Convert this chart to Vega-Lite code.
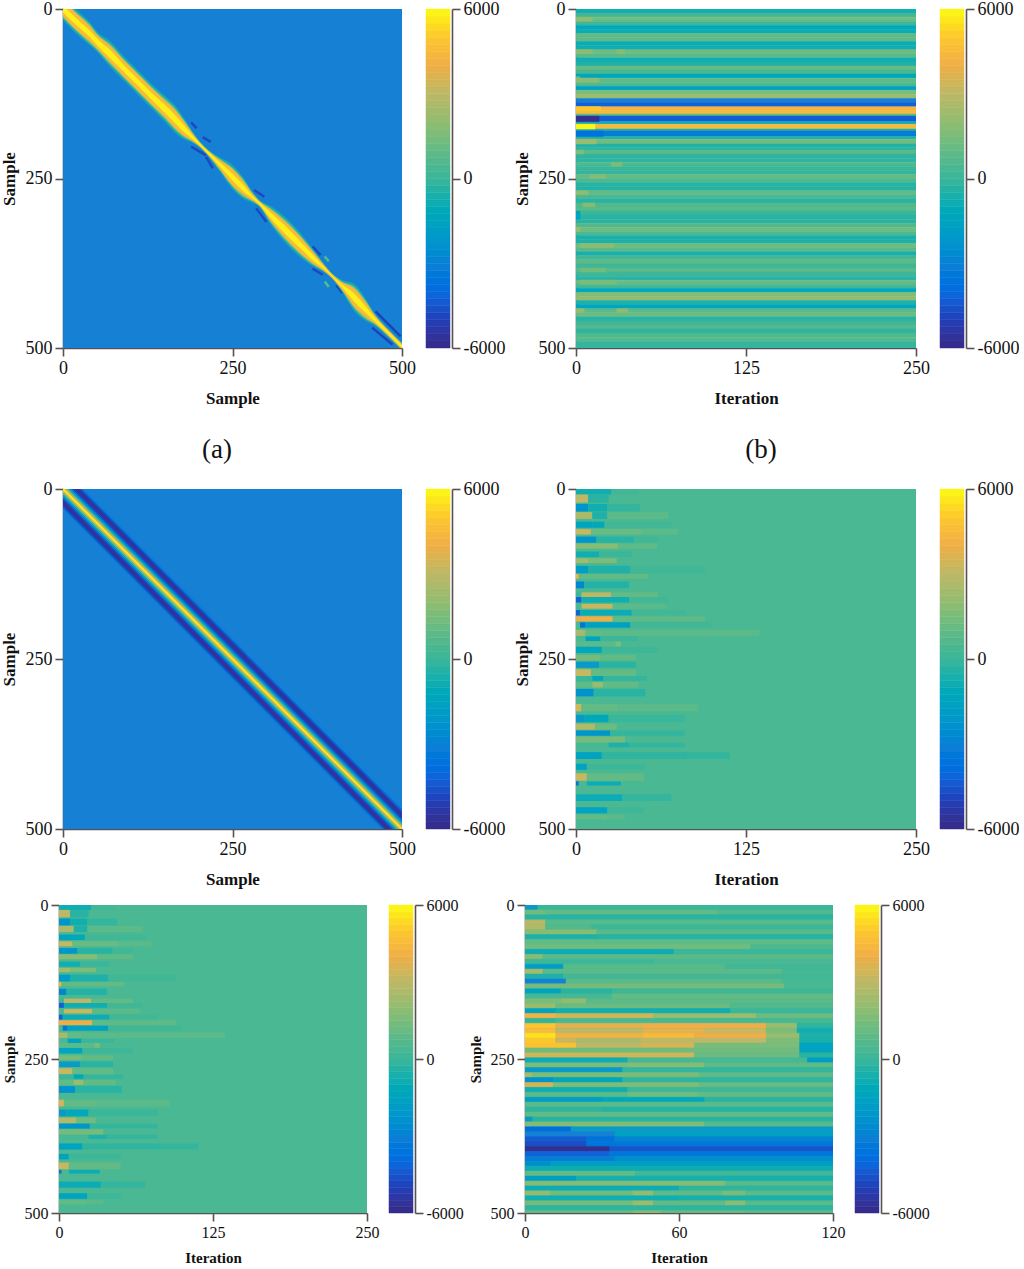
{"$schema":"https://vega.github.io/schema/vega-lite/v6.json","background":"white","padding":{"left":0,"top":0,"right":0,"bottom":0},"spacing":10,"align":"none",
"config":{"view":{"stroke":null},"legend":{"disable":true},"font":"Liberation Serif","range":{"ramp":["#352a87","#2040b8","#0a6ae0","#1580d4","#0b9ac8","#0cabb5","#3ab69a","#62bb85","#90bc72","#bdb868","#f0ae48","#fcc72c","#f9fb15"],"heatmap":["#352a87","#2040b8","#0a6ae0","#1580d4","#0b9ac8","#0cabb5","#3ab69a","#62bb85","#90bc72","#bdb868","#f0ae48","#fcc72c","#f9fb15"]},
"rect":{"strokeWidth":0.5},
"axis":{"grid":false,"domainColor":"#5a5050","tickColor":"#5a5050","domainWidth":1.6,"tickWidth":1.6,"tickSize":8,"labelColor":"#111","labelFontSize":18,"titleFontSize":17,"titleFontWeight":"bold","titleColor":"#111","labelPadding":3,"labelFlush":false,"labelOverlap":false,"titlePadding":7},"axisX":{"titlePadding":13}},
"datasets":{
"bar":[{"y":-6000,"y2":-5750,"v":-5875},{"y":-5750,"y2":-5500,"v":-5625},{"y":-5500,"y2":-5250,"v":-5375},{"y":-5250,"y2":-5000,"v":-5125},{"y":-5000,"y2":-4750,"v":-4875},{"y":-4750,"y2":-4500,"v":-4625},{"y":-4500,"y2":-4250,"v":-4375},{"y":-4250,"y2":-4000,"v":-4125},{"y":-4000,"y2":-3750,"v":-3875},{"y":-3750,"y2":-3500,"v":-3625},{"y":-3500,"y2":-3250,"v":-3375},{"y":-3250,"y2":-3000,"v":-3125},{"y":-3000,"y2":-2750,"v":-2875},{"y":-2750,"y2":-2500,"v":-2625},{"y":-2500,"y2":-2250,"v":-2375},{"y":-2250,"y2":-2000,"v":-2125},{"y":-2000,"y2":-1750,"v":-1875},{"y":-1750,"y2":-1500,"v":-1625},{"y":-1500,"y2":-1250,"v":-1375},{"y":-1250,"y2":-1000,"v":-1125},{"y":-1000,"y2":-750,"v":-875},{"y":-750,"y2":-500,"v":-625},{"y":-500,"y2":-250,"v":-375},{"y":-250,"y2":0,"v":-125},{"y":0,"y2":250,"v":125},{"y":250,"y2":500,"v":375},{"y":500,"y2":750,"v":625},{"y":750,"y2":1000,"v":875},{"y":1000,"y2":1250,"v":1125},{"y":1250,"y2":1500,"v":1375},{"y":1500,"y2":1750,"v":1625},{"y":1750,"y2":2000,"v":1875},{"y":2000,"y2":2250,"v":2125},{"y":2250,"y2":2500,"v":2375},{"y":2500,"y2":2750,"v":2625},{"y":2750,"y2":3000,"v":2875},{"y":3000,"y2":3250,"v":3125},{"y":3250,"y2":3500,"v":3375},{"y":3500,"y2":3750,"v":3625},{"y":3750,"y2":4000,"v":3875},{"y":4000,"y2":4250,"v":4125},{"y":4250,"y2":4500,"v":4375},{"y":4500,"y2":4750,"v":4625},{"y":4750,"y2":5000,"v":4875},{"y":5000,"y2":5250,"v":5125},{"y":5250,"y2":5500,"v":5375},{"y":5500,"y2":5750,"v":5625},{"y":5750,"y2":6000,"v":5875}],
"bgblue":[{"x":0,"x2":500,"y":0,"y2":500,"v":-3000}],
"area":[
{"x":0,"y":-16,"y2":16,"v":-800},{"x":20,"y":1,"y2":37,"v":-800},{"x":40,"y":20,"y2":54,"v":-800},{"x":50,"y":33,"y2":63,"v":-800},{"x":70,"y":48,"y2":86,"v":-800},{"x":90,"y":70,"y2":106,"v":-800},{"x":110,"y":90,"y2":126,"v":-800},{"x":130,"y":110,"y2":146,"v":-800},{"x":150,"y":128,"y2":166,"v":-800},{"x":165,"y":142,"y2":182,"v":-800},{"x":180,"y":163,"y2":193,"v":-800},{"x":190,"y":179,"y2":197,"v":-800},{"x":200,"y":193,"y2":203,"v":-800},{"x":215,"y":208,"y2":218,"v":-800},{"x":230,"y":218,"y2":238,"v":-800},{"x":250,"y":230,"y2":266,"v":-800},{"x":265,"y":247,"y2":279,"v":-800},{"x":280,"y":270,"y2":286,"v":-800},{"x":290,"y":282,"y2":292,"v":-800},{"x":305,"y":290,"y2":316,"v":-800},{"x":330,"y":309,"y2":347,"v":-800},{"x":350,"y":330,"y2":366,"v":-800},{"x":370,"y":356,"y2":380,"v":-800},{"x":385,"y":376,"y2":388,"v":-800},{"x":395,"y":388,"y2":396,"v":-800},{"x":410,"y":399,"y2":415,"v":-800},{"x":430,"y":406,"y2":446,"v":-800},{"x":445,"y":425,"y2":459,"v":-800},{"x":460,"y":449,"y2":467,"v":-800},{"x":480,"y":472,"y2":484,"v":-800},{"x":500,"y":492,"y2":504,"v":-800},
{"x":0,"y":-13,"y2":13,"v":2000},{"x":20,"y":5,"y2":33,"v":2000},{"x":40,"y":23,"y2":51,"v":2000},{"x":50,"y":36,"y2":60,"v":2000},{"x":70,"y":52,"y2":82,"v":2000},{"x":90,"y":74,"y2":102,"v":2000},{"x":110,"y":94,"y2":122,"v":2000},{"x":130,"y":114,"y2":142,"v":2000},{"x":150,"y":132,"y2":162,"v":2000},{"x":165,"y":146,"y2":178,"v":2000},{"x":180,"y":166,"y2":190,"v":2000},{"x":190,"y":181,"y2":195,"v":2000},{"x":200,"y":194,"y2":202,"v":2000},{"x":215,"y":209,"y2":217,"v":2000},{"x":230,"y":220,"y2":236,"v":2000},{"x":250,"y":234,"y2":262,"v":2000},{"x":265,"y":250,"y2":276,"v":2000},{"x":280,"y":272,"y2":284,"v":2000},{"x":290,"y":283,"y2":291,"v":2000},{"x":305,"y":293,"y2":313,"v":2000},{"x":330,"y":313,"y2":343,"v":2000},{"x":350,"y":334,"y2":362,"v":2000},{"x":370,"y":358,"y2":378,"v":2000},{"x":385,"y":377,"y2":387,"v":2000},{"x":395,"y":389,"y2":395,"v":2000},{"x":410,"y":401,"y2":413,"v":2000},{"x":430,"y":410,"y2":442,"v":2000},{"x":445,"y":428,"y2":456,"v":2000},{"x":460,"y":451,"y2":465,"v":2000},{"x":480,"y":473,"y2":483,"v":2000},{"x":500,"y":493,"y2":503,"v":2000},
{"x":0,"y":-10,"y2":10,"v":4500},{"x":20,"y":7,"y2":31,"v":4500},{"x":40,"y":26,"y2":48,"v":4500},{"x":50,"y":38,"y2":58,"v":4500},{"x":70,"y":55,"y2":79,"v":4500},{"x":90,"y":76,"y2":100,"v":4500},{"x":110,"y":96,"y2":120,"v":4500},{"x":130,"y":116,"y2":140,"v":4500},{"x":150,"y":135,"y2":159,"v":4500},{"x":165,"y":149,"y2":175,"v":4500},{"x":180,"y":168,"y2":188,"v":4500},{"x":190,"y":182,"y2":194,"v":4500},{"x":200,"y":195,"y2":201,"v":4500},{"x":215,"y":210,"y2":216,"v":4500},{"x":230,"y":222,"y2":234,"v":4500},{"x":250,"y":236,"y2":260,"v":4500},{"x":265,"y":253,"y2":273,"v":4500},{"x":280,"y":273,"y2":283,"v":4500},{"x":290,"y":284,"y2":290,"v":4500},{"x":305,"y":295,"y2":311,"v":4500},{"x":330,"y":316,"y2":340,"v":4500},{"x":350,"y":336,"y2":360,"v":4500},{"x":370,"y":360,"y2":376,"v":4500},{"x":385,"y":378,"y2":386,"v":4500},{"x":395,"y":389,"y2":395,"v":4500},{"x":410,"y":402,"y2":412,"v":4500},{"x":430,"y":413,"y2":439,"v":4500},{"x":445,"y":431,"y2":453,"v":4500},{"x":460,"y":452,"y2":464,"v":4500},{"x":480,"y":474,"y2":482,"v":4500},{"x":500,"y":494,"y2":502,"v":4500},
{"x":0,"y":-5,"y2":5,"v":5800},{"x":20,"y":14,"y2":24,"v":5800},{"x":40,"y":32,"y2":42,"v":5800},{"x":50,"y":43,"y2":53,"v":5800},{"x":70,"y":61,"y2":73,"v":5800},{"x":90,"y":83,"y2":93,"v":5800},{"x":110,"y":103,"y2":113,"v":5800},{"x":130,"y":123,"y2":133,"v":5800},{"x":150,"y":141,"y2":153,"v":5800},{"x":165,"y":156,"y2":168,"v":5800},{"x":180,"y":173,"y2":183,"v":5800},{"x":190,"y":185,"y2":191,"v":5800},{"x":200,"y":196,"y2":200,"v":5800},{"x":215,"y":211,"y2":215,"v":5800},{"x":230,"y":225,"y2":231,"v":5800},{"x":250,"y":243,"y2":253,"v":5800},{"x":265,"y":258,"y2":268,"v":5800},{"x":280,"y":276,"y2":280,"v":5800},{"x":290,"y":285,"y2":289,"v":5800},{"x":305,"y":299,"y2":307,"v":5800},{"x":330,"y":322,"y2":334,"v":5800},{"x":350,"y":343,"y2":353,"v":5800},{"x":370,"y":364,"y2":372,"v":5800},{"x":385,"y":380,"y2":384,"v":5800},{"x":395,"y":391,"y2":393,"v":5800},{"x":410,"y":405,"y2":409,"v":5800},{"x":430,"y":420,"y2":432,"v":5800},{"x":445,"y":437,"y2":447,"v":5800},{"x":460,"y":455,"y2":461,"v":5800},{"x":480,"y":476,"y2":480,"v":5800},{"x":500,"y":496,"y2":500,"v":5800}],
"streak":[{"s":1,"x":189,"y":167,"v":-4800},{"s":1,"x":197,"y":176,"v":-4800},{"s":2,"x":206,"y":189,"v":-4800},{"s":2,"x":218,"y":196,"v":-4800},{"s":3,"x":189,"y":203,"v":-4800},{"s":3,"x":211,"y":216,"v":-4800},{"s":4,"x":211,"y":218,"v":-4800},{"s":4,"x":221,"y":235,"v":-4800},{"s":5,"x":282,"y":267,"v":-4800},{"s":5,"x":297,"y":277,"v":-4800},{"s":6,"x":285,"y":294,"v":-4800},{"s":6,"x":300,"y":314,"v":-4800},{"s":7,"x":368,"y":350,"v":-4800},{"s":7,"x":380,"y":363,"v":-4800},{"s":8,"x":368,"y":383,"v":-4800},{"s":8,"x":383,"y":392,"v":-4800},{"s":9,"x":403,"y":407,"v":-4800},{"s":9,"x":412,"y":419,"v":-4800},{"s":10,"x":461,"y":446,"v":-5000},{"s":10,"x":498,"y":483,"v":-5000},{"s":11,"x":456,"y":470,"v":-5000},{"s":11,"x":486,"y":495,"v":-5000},{"s":12,"x":386,"y":365,"v":700},{"s":12,"x":392,"y":372,"v":700},{"s":13,"x":386,"y":402,"v":700},{"s":13,"x":392,"y":410,"v":700}],
"clines":[{"d":-30,"x":0,"y":-30,"v":-3000},{"d":-30,"x":500,"y":470,"v":-3000},{"d":30,"x":0,"y":30,"v":-3000},{"d":30,"x":500,"y":530,"v":-3000},{"d":-27,"x":0,"y":-27,"v":-3800},{"d":-27,"x":500,"y":473,"v":-3800},{"d":27,"x":0,"y":27,"v":-3800},{"d":27,"x":500,"y":527,"v":-3800},{"d":-24,"x":0,"y":-24,"v":-5000},{"d":-24,"x":500,"y":476,"v":-5000},{"d":24,"x":0,"y":24,"v":-5000},{"d":24,"x":500,"y":524,"v":-5000},{"d":-21,"x":0,"y":-21,"v":-5700},{"d":-21,"x":500,"y":479,"v":-5700},{"d":21,"x":0,"y":21,"v":-5700},{"d":21,"x":500,"y":521,"v":-5700},{"d":-18,"x":0,"y":-18,"v":-5600},{"d":-18,"x":500,"y":482,"v":-5600},{"d":18,"x":0,"y":18,"v":-5600},{"d":18,"x":500,"y":518,"v":-5600},{"d":-15,"x":0,"y":-15,"v":-5000},{"d":-15,"x":500,"y":485,"v":-5000},{"d":15,"x":0,"y":15,"v":-5000},{"d":15,"x":500,"y":515,"v":-5000},{"d":-12,"x":0,"y":-12,"v":-3500},{"d":-12,"x":500,"y":488,"v":-3500},{"d":12,"x":0,"y":12,"v":-3500},{"d":12,"x":500,"y":512,"v":-3500},{"d":-9,"x":0,"y":-9,"v":-1500},{"d":-9,"x":500,"y":491,"v":-1500},{"d":9,"x":0,"y":9,"v":-1500},{"d":9,"x":500,"y":509,"v":-1500},{"d":-6,"x":0,"y":-6,"v":800},{"d":-6,"x":500,"y":494,"v":800},{"d":6,"x":0,"y":6,"v":800},{"d":6,"x":500,"y":506,"v":800},{"d":-3,"x":0,"y":-3,"v":3500},{"d":-3,"x":500,"y":497,"v":3500},{"d":3,"x":0,"y":3,"v":3500},{"d":3,"x":500,"y":503,"v":3500},{"d":0,"x":0,"y":0,"v":5800},{"d":0,"x":500,"y":500,"v":5800}],
"b":[{"x":0,"x2":250,"y":0,"y2":6,"v":-800},{"x":0,"x2":250,"y":6,"y2":12,"v":200},{"x":0,"x2":250,"y":12,"y2":18,"v":1300},{"x":0,"x2":250,"y":18,"y2":24,"v":200},{"x":0,"x2":250,"y":24,"y2":30,"v":-1200},{"x":0,"x2":250,"y":30,"y2":36,"v":-1000},{"x":0,"x2":250,"y":36,"y2":42,"v":1000},{"x":0,"x2":250,"y":42,"y2":48,"v":900},{"x":0,"x2":250,"y":48,"y2":54,"v":-900},{"x":0,"x2":250,"y":54,"y2":60,"v":-800},{"x":0,"x2":250,"y":60,"y2":66,"v":1300},{"x":0,"x2":250,"y":66,"y2":72,"v":800},{"x":0,"x2":250,"y":72,"y2":78,"v":-800},{"x":0,"x2":250,"y":78,"y2":84,"v":-500},{"x":0,"x2":250,"y":84,"y2":90,"v":1100},{"x":0,"x2":250,"y":90,"y2":96,"v":300},{"x":0,"x2":250,"y":96,"y2":102,"v":-1300},{"x":0,"x2":250,"y":102,"y2":108,"v":900},{"x":0,"x2":250,"y":108,"y2":114,"v":600},{"x":0,"x2":250,"y":114,"y2":120,"v":-1600},{"x":0,"x2":250,"y":120,"y2":126,"v":1500},{"x":0,"x2":250,"y":126,"y2":132,"v":2200},{"x":0,"x2":250,"y":132,"y2":138,"v":-3000},{"x":0,"x2":250,"y":138,"y2":144,"v":-4200},{"x":0,"x2":250,"y":144,"y2":150,"v":4300},{"x":0,"x2":250,"y":150,"y2":155,"v":4500},{"x":0,"x2":250,"y":155,"y2":158,"v":800},{"x":0,"x2":250,"y":158,"y2":166,"v":-4300},{"x":0,"x2":250,"y":166,"y2":170,"v":-1000},{"x":0,"x2":250,"y":170,"y2":177,"v":4500},{"x":0,"x2":250,"y":177,"y2":180,"v":-500},{"x":0,"x2":250,"y":180,"y2":188,"v":-3200},{"x":0,"x2":250,"y":188,"y2":192,"v":-500},{"x":0,"x2":250,"y":192,"y2":199,"v":1300},{"x":0,"x2":250,"y":199,"y2":204,"v":-400},{"x":0,"x2":250,"y":204,"y2":208,"v":-300},{"x":0,"x2":250,"y":208,"y2":214,"v":800},{"x":0,"x2":250,"y":214,"y2":220,"v":-200},{"x":0,"x2":250,"y":220,"y2":226,"v":-200},{"x":0,"x2":250,"y":226,"y2":232,"v":500},{"x":0,"x2":250,"y":232,"y2":238,"v":0},{"x":0,"x2":250,"y":238,"y2":244,"v":-100},{"x":0,"x2":250,"y":244,"y2":250,"v":1000},{"x":0,"x2":250,"y":250,"y2":256,"v":500},{"x":0,"x2":250,"y":256,"y2":262,"v":-300},{"x":0,"x2":250,"y":262,"y2":268,"v":-400},{"x":0,"x2":250,"y":268,"y2":274,"v":1000},{"x":0,"x2":250,"y":274,"y2":280,"v":400},{"x":0,"x2":250,"y":280,"y2":286,"v":-300},{"x":0,"x2":250,"y":286,"y2":292,"v":600},{"x":0,"x2":250,"y":292,"y2":298,"v":700},{"x":0,"x2":250,"y":298,"y2":304,"v":0},{"x":0,"x2":250,"y":304,"y2":310,"v":-300},{"x":0,"x2":250,"y":310,"y2":316,"v":-300},{"x":0,"x2":250,"y":316,"y2":322,"v":600},{"x":0,"x2":250,"y":322,"y2":328,"v":1300},{"x":0,"x2":250,"y":328,"y2":334,"v":500},{"x":0,"x2":250,"y":334,"y2":340,"v":-600},{"x":0,"x2":250,"y":340,"y2":346,"v":-500},{"x":0,"x2":250,"y":346,"y2":352,"v":1300},{"x":0,"x2":250,"y":352,"y2":358,"v":800},{"x":0,"x2":250,"y":358,"y2":364,"v":-600},{"x":0,"x2":250,"y":364,"y2":370,"v":200},{"x":0,"x2":250,"y":370,"y2":376,"v":800},{"x":0,"x2":250,"y":376,"y2":382,"v":100},{"x":0,"x2":250,"y":382,"y2":388,"v":800},{"x":0,"x2":250,"y":388,"y2":394,"v":100},{"x":0,"x2":250,"y":394,"y2":400,"v":-300},{"x":0,"x2":250,"y":400,"y2":406,"v":1100},{"x":0,"x2":250,"y":406,"y2":412,"v":300},{"x":0,"x2":250,"y":412,"y2":418,"v":-1200},{"x":0,"x2":250,"y":418,"y2":424,"v":1700},{"x":0,"x2":250,"y":424,"y2":430,"v":2000},{"x":0,"x2":250,"y":430,"y2":436,"v":-500},{"x":0,"x2":250,"y":436,"y2":442,"v":-1300},{"x":0,"x2":250,"y":442,"y2":448,"v":800},{"x":0,"x2":250,"y":448,"y2":454,"v":1200},{"x":0,"x2":250,"y":454,"y2":460,"v":-300},{"x":0,"x2":250,"y":460,"y2":466,"v":100},{"x":0,"x2":250,"y":466,"y2":472,"v":600},{"x":0,"x2":250,"y":472,"y2":478,"v":-200},{"x":0,"x2":250,"y":478,"y2":484,"v":500},{"x":0,"x2":250,"y":484,"y2":490,"v":700},{"x":0,"x2":250,"y":490,"y2":500,"v":-100},
{"x":0,"x2":12,"y":12,"y2":18,"v":2000},{"x":0,"x2":18,"y":144,"y2":150,"v":5000},{"x":0,"x2":17,"y":158,"y2":166,"v":-5800},{"x":0,"x2":14,"y":170,"y2":177,"v":5900},{"x":0,"x2":20,"y":180,"y2":188,"v":-3600},{"x":0,"x2":15,"y":192,"y2":199,"v":2200},{"x":0,"x2":6,"y":208,"y2":214,"v":1600},{"x":26,"x2":34,"y":226,"y2":232,"v":1500},{"x":10,"x2":22,"y":244,"y2":250,"v":1700},{"x":0,"x2":9,"y":268,"y2":274,"v":2000},{"x":5,"x2":14,"y":286,"y2":292,"v":1700},{"x":0,"x2":3,"y":298,"y2":310,"v":-1500},{"x":0,"x2":3,"y":322,"y2":328,"v":2200},{"x":3,"x2":28,"y":346,"y2":352,"v":1900},{"x":3,"x2":22,"y":382,"y2":388,"v":1300},{"x":3,"x2":30,"y":400,"y2":406,"v":1500},{"x":0,"x2":6,"y":442,"y2":448,"v":2000},{"x":30,"x2":38,"y":442,"y2":448,"v":1900},{"x":0,"x2":3,"y":100,"y2":108,"v":1500},{"x":0,"x2":17,"y":102,"y2":108,"v":1900},{"x":0,"x2":12,"y":60,"y2":66,"v":1900},{"x":30,"x2":36,"y":60,"y2":66,"v":1800}],
"d":[{"x":0,"x2":250,"y":0,"y2":500,"v":400},
{"x":0,"x2":26,"y":0,"y2":8,"v":-800},{"x":26,"x2":46,"y":0,"y2":8,"v":200},{"x":0,"x2":9,"y":8,"y2":20,"v":3000},{"x":9,"x2":24,"y":8,"y2":20,"v":-300},{"x":0,"x2":9,"y":22,"y2":33,"v":-2200},{"x":9,"x2":23,"y":22,"y2":33,"v":-800},{"x":23,"x2":47,"y":22,"y2":33,"v":-100},{"x":0,"x2":12,"y":34,"y2":44,"v":2600},{"x":12,"x2":23,"y":34,"y2":44,"v":-500},{"x":23,"x2":68,"y":34,"y2":44,"v":800},{"x":0,"x2":12,"y":48,"y2":57,"v":-1500},{"x":12,"x2":21,"y":48,"y2":57,"v":-1200},{"x":21,"x2":71,"y":48,"y2":57,"v":200},{"x":0,"x2":11,"y":59,"y2":67,"v":3200},{"x":11,"x2":49,"y":59,"y2":67,"v":1100},{"x":49,"x2":75,"y":59,"y2":67,"v":800},{"x":0,"x2":15,"y":70,"y2":79,"v":-2200},{"x":15,"x2":43,"y":70,"y2":79,"v":-300},{"x":43,"x2":61,"y":70,"y2":79,"v":200},{"x":0,"x2":31,"y":80,"y2":88,"v":1800},{"x":31,"x2":60,"y":80,"y2":88,"v":900},{"x":0,"x2":17,"y":92,"y2":100,"v":-800},{"x":17,"x2":41,"y":92,"y2":100,"v":0},{"x":0,"x2":9,"y":102,"y2":109,"v":2400},{"x":9,"x2":30,"y":102,"y2":109,"v":1600},{"x":0,"x2":9,"y":113,"y2":124,"v":-1800},{"x":9,"x2":40,"y":113,"y2":124,"v":-500},{"x":40,"x2":95,"y":113,"y2":124,"v":200},{"x":0,"x2":2,"y":125,"y2":132,"v":4200},{"x":2,"x2":53,"y":125,"y2":132,"v":1000},{"x":0,"x2":6,"y":136,"y2":146,"v":-2800},{"x":6,"x2":39,"y":136,"y2":146,"v":-400},{"x":0,"x2":4,"y":152,"y2":159,"v":0},{"x":4,"x2":26,"y":152,"y2":159,"v":3000},{"x":26,"x2":60,"y":152,"y2":159,"v":1000},{"x":0,"x2":4,"y":159,"y2":167,"v":-4200},{"x":4,"x2":39,"y":159,"y2":167,"v":-800},{"x":39,"x2":68,"y":159,"y2":167,"v":200},{"x":4,"x2":27,"y":169,"y2":176,"v":3200},{"x":27,"x2":66,"y":169,"y2":176,"v":800},{"x":0,"x2":3,"y":178,"y2":186,"v":-4200},{"x":3,"x2":41,"y":178,"y2":186,"v":-1000},{"x":41,"x2":80,"y":178,"y2":186,"v":200},{"x":0,"x2":27,"y":187,"y2":195,"v":4000},{"x":27,"x2":95,"y":187,"y2":195,"v":900},{"x":3,"x2":7,"y":196,"y2":204,"v":-3500},{"x":7,"x2":40,"y":196,"y2":204,"v":-1600},{"x":40,"x2":100,"y":196,"y2":204,"v":200},{"x":0,"x2":7,"y":207,"y2":216,"v":2500},{"x":7,"x2":19,"y":207,"y2":216,"v":1000},{"x":19,"x2":135,"y":207,"y2":216,"v":800},{"x":7,"x2":18,"y":217,"y2":224,"v":-1500},{"x":18,"x2":45,"y":217,"y2":224,"v":0},{"x":0,"x2":29,"y":224,"y2":232,"v":800},{"x":29,"x2":33,"y":224,"y2":232,"v":1500},{"x":0,"x2":19,"y":232,"y2":241,"v":-1400},{"x":19,"x2":60,"y":232,"y2":241,"v":100},{"x":0,"x2":18,"y":244,"y2":252,"v":1400},{"x":18,"x2":44,"y":244,"y2":252,"v":1000},{"x":0,"x2":17,"y":254,"y2":263,"v":-2000},{"x":17,"x2":44,"y":254,"y2":263,"v":-300},{"x":0,"x2":11,"y":265,"y2":275,"v":3200},{"x":11,"x2":44,"y":265,"y2":275,"v":1000},{"x":0,"x2":12,"y":275,"y2":282,"v":0},{"x":12,"x2":20,"y":275,"y2":282,"v":-1200},{"x":20,"x2":52,"y":275,"y2":282,"v":-100},{"x":0,"x2":12,"y":284,"y2":292,"v":1000},{"x":12,"x2":20,"y":284,"y2":292,"v":2200},{"x":20,"x2":46,"y":284,"y2":292,"v":1000},{"x":0,"x2":13,"y":294,"y2":305,"v":-2300},{"x":13,"x2":51,"y":294,"y2":305,"v":-300},{"x":0,"x2":4,"y":316,"y2":327,"v":3400},{"x":4,"x2":31,"y":316,"y2":327,"v":1000},{"x":31,"x2":90,"y":316,"y2":327,"v":800},{"x":0,"x2":6,"y":332,"y2":343,"v":-2000},{"x":6,"x2":24,"y":332,"y2":343,"v":-1200},{"x":24,"x2":80,"y":332,"y2":343,"v":0},{"x":0,"x2":14,"y":345,"y2":354,"v":2800},{"x":14,"x2":30,"y":345,"y2":354,"v":1200},{"x":0,"x2":25,"y":355,"y2":363,"v":-2200},{"x":25,"x2":80,"y":355,"y2":363,"v":-100},{"x":0,"x2":36,"y":364,"y2":373,"v":1400},{"x":0,"x2":24,"y":373,"y2":380,"v":300},{"x":24,"x2":39,"y":373,"y2":380,"v":-500},{"x":39,"x2":80,"y":373,"y2":380,"v":-100},{"x":0,"x2":19,"y":387,"y2":397,"v":-1500},{"x":19,"x2":82,"y":387,"y2":397,"v":-200},{"x":82,"x2":113,"y":387,"y2":397,"v":-100},{"x":0,"x2":8,"y":404,"y2":413,"v":-1500},{"x":8,"x2":51,"y":404,"y2":413,"v":100},{"x":0,"x2":8,"y":418,"y2":429,"v":3200},{"x":8,"x2":50,"y":418,"y2":429,"v":1000},{"x":0,"x2":2,"y":430,"y2":436,"v":-3500},{"x":8,"x2":33,"y":430,"y2":436,"v":-1000},{"x":0,"x2":34,"y":449,"y2":459,"v":-1000},{"x":34,"x2":70,"y":449,"y2":459,"v":-100},{"x":0,"x2":23,"y":468,"y2":477,"v":-1500},{"x":23,"x2":50,"y":468,"y2":477,"v":100},{"x":0,"x2":23,"y":479,"y2":486,"v":1000},{"x":23,"x2":36,"y":479,"y2":486,"v":800}],
"f":[{"x":0,"x2":120,"y":0,"y2":500,"v":300},
{"x":0,"x2":5,"y":0,"y2":8,"v":-2000},{"x":5,"x2":120,"y":0,"y2":8,"v":0},{"x":0,"x2":8,"y":8,"y2":16,"v":1300},{"x":8,"x2":75,"y":8,"y2":16,"v":1000},{"x":75,"x2":120,"y":8,"y2":16,"v":600},{"x":0,"x2":120,"y":16,"y2":24,"v":-300},{"x":0,"x2":8,"y":24,"y2":32,"v":2800},{"x":8,"x2":120,"y":24,"y2":32,"v":700},{"x":0,"x2":8,"y":32,"y2":40,"v":2800},{"x":8,"x2":26,"y":32,"y2":40,"v":600},{"x":26,"x2":120,"y":32,"y2":40,"v":100},{"x":0,"x2":28,"y":40,"y2":48,"v":1800},{"x":28,"x2":120,"y":40,"y2":48,"v":700},{"x":0,"x2":28,"y":48,"y2":56,"v":-500},{"x":28,"x2":120,"y":48,"y2":56,"v":-300},{"x":0,"x2":28,"y":56,"y2":64,"v":1000},{"x":28,"x2":120,"y":56,"y2":64,"v":900},{"x":0,"x2":88,"y":64,"y2":72,"v":1300},{"x":88,"x2":120,"y":64,"y2":72,"v":500},{"x":0,"x2":58,"y":72,"y2":80,"v":-1000},{"x":58,"x2":120,"y":72,"y2":80,"v":0},{"x":0,"x2":7,"y":80,"y2":88,"v":1800},{"x":7,"x2":120,"y":80,"y2":88,"v":800},{"x":0,"x2":50,"y":88,"y2":96,"v":100},{"x":50,"x2":120,"y":88,"y2":96,"v":400},{"x":0,"x2":15,"y":96,"y2":104,"v":-1800},{"x":15,"x2":78,"y":96,"y2":104,"v":700},{"x":78,"x2":120,"y":96,"y2":104,"v":200},{"x":0,"x2":7,"y":104,"y2":112,"v":2500},{"x":7,"x2":100,"y":104,"y2":112,"v":800},{"x":0,"x2":15,"y":112,"y2":120,"v":-500},{"x":15,"x2":120,"y":112,"y2":120,"v":200},{"x":0,"x2":16,"y":120,"y2":128,"v":-3000},{"x":16,"x2":100,"y":120,"y2":128,"v":800},{"x":0,"x2":101,"y":128,"y2":136,"v":1400},{"x":101,"x2":120,"y":128,"y2":136,"v":400},{"x":0,"x2":14,"y":136,"y2":144,"v":-1500},{"x":14,"x2":34,"y":136,"y2":144,"v":-300},{"x":34,"x2":120,"y":136,"y2":144,"v":100},{"x":0,"x2":34,"y":144,"y2":152,"v":300},{"x":34,"x2":120,"y":144,"y2":152,"v":1000},{"x":0,"x2":14,"y":152,"y2":160,"v":1500},{"x":14,"x2":24,"y":152,"y2":160,"v":2000},{"x":24,"x2":120,"y":152,"y2":160,"v":800},{"x":0,"x2":12,"y":160,"y2":168,"v":2200},{"x":12,"x2":80,"y":160,"y2":168,"v":1200},{"x":80,"x2":120,"y":160,"y2":168,"v":600},{"x":0,"x2":12,"y":168,"y2":176,"v":-1500},{"x":12,"x2":80,"y":168,"y2":176,"v":-800},{"x":80,"x2":120,"y":168,"y2":176,"v":0},{"x":0,"x2":12,"y":176,"y2":184,"v":4200},{"x":12,"x2":50,"y":176,"y2":184,"v":3500},{"x":50,"x2":90,"y":176,"y2":184,"v":2200},{"x":90,"x2":120,"y":176,"y2":184,"v":1200},{"x":0,"x2":12,"y":184,"y2":192,"v":-200},{"x":12,"x2":120,"y":184,"y2":192,"v":300},{"x":0,"x2":12,"y":192,"y2":200,"v":4900},{"x":12,"x2":46,"y":192,"y2":200,"v":3800},{"x":46,"x2":94,"y":192,"y2":200,"v":4000},{"x":94,"x2":106,"y":192,"y2":200,"v":2200},{"x":106,"x2":120,"y":192,"y2":200,"v":-200},{"x":0,"x2":12,"y":200,"y2":208,"v":4500},{"x":12,"x2":46,"y":200,"y2":208,"v":3000},{"x":46,"x2":70,"y":200,"y2":208,"v":3800},{"x":70,"x2":94,"y":200,"y2":208,"v":3200},{"x":94,"x2":106,"y":200,"y2":208,"v":1600},{"x":106,"x2":120,"y":200,"y2":208,"v":-800},{"x":0,"x2":12,"y":208,"y2":216,"v":5500},{"x":12,"x2":46,"y":208,"y2":216,"v":4200},{"x":46,"x2":66,"y":208,"y2":216,"v":4500},{"x":66,"x2":94,"y":208,"y2":216,"v":4000},{"x":94,"x2":107,"y":208,"y2":216,"v":2200},{"x":107,"x2":120,"y":208,"y2":216,"v":-500},{"x":0,"x2":12,"y":216,"y2":224,"v":5000},{"x":12,"x2":20,"y":216,"y2":224,"v":3200},{"x":20,"x2":45,"y":216,"y2":224,"v":2600},{"x":45,"x2":94,"y":216,"y2":224,"v":3000},{"x":94,"x2":107,"y":216,"y2":224,"v":1600},{"x":107,"x2":120,"y":216,"y2":224,"v":-600},{"x":0,"x2":20,"y":224,"y2":232,"v":4800},{"x":20,"x2":45,"y":224,"y2":232,"v":3000},{"x":45,"x2":66,"y":224,"y2":232,"v":3500},{"x":66,"x2":107,"y":224,"y2":232,"v":1500},{"x":107,"x2":120,"y":224,"y2":232,"v":-1500},{"x":0,"x2":107,"y":232,"y2":240,"v":1300},{"x":107,"x2":120,"y":232,"y2":240,"v":-1500},{"x":0,"x2":66,"y":240,"y2":248,"v":3400},{"x":66,"x2":107,"y":240,"y2":248,"v":1200},{"x":107,"x2":120,"y":240,"y2":248,"v":-300},{"x":0,"x2":40,"y":248,"y2":256,"v":-1000},{"x":40,"x2":110,"y":248,"y2":256,"v":300},{"x":110,"x2":120,"y":248,"y2":256,"v":-1800},{"x":0,"x2":40,"y":256,"y2":264,"v":1500},{"x":40,"x2":70,"y":256,"y2":264,"v":1700},{"x":70,"x2":120,"y":256,"y2":264,"v":900},{"x":0,"x2":38,"y":264,"y2":272,"v":-2000},{"x":38,"x2":120,"y":264,"y2":272,"v":-100},{"x":0,"x2":3,"y":272,"y2":280,"v":2400},{"x":3,"x2":68,"y":272,"y2":280,"v":1500},{"x":68,"x2":120,"y":272,"y2":280,"v":900},{"x":0,"x2":11,"y":280,"y2":288,"v":-2300},{"x":11,"x2":38,"y":280,"y2":288,"v":-1300},{"x":38,"x2":120,"y":280,"y2":288,"v":-200},{"x":0,"x2":11,"y":288,"y2":296,"v":3500},{"x":11,"x2":68,"y":288,"y2":296,"v":1600},{"x":68,"x2":120,"y":288,"y2":296,"v":1100},{"x":0,"x2":40,"y":296,"y2":304,"v":-800},{"x":40,"x2":120,"y":296,"y2":304,"v":100},{"x":0,"x2":40,"y":304,"y2":312,"v":800},{"x":40,"x2":68,"y":304,"y2":312,"v":1300},{"x":68,"x2":120,"y":304,"y2":312,"v":1000},{"x":0,"x2":30,"y":312,"y2":320,"v":-1800},{"x":30,"x2":70,"y":312,"y2":320,"v":-1200},{"x":70,"x2":120,"y":312,"y2":320,"v":-300},{"x":0,"x2":120,"y":320,"y2":328,"v":800},{"x":0,"x2":30,"y":328,"y2":336,"v":-200},{"x":30,"x2":120,"y":328,"y2":336,"v":-400},{"x":0,"x2":120,"y":336,"y2":344,"v":1000},{"x":0,"x2":3,"y":344,"y2":352,"v":-2000},{"x":3,"x2":120,"y":344,"y2":352,"v":-300},{"x":0,"x2":70,"y":352,"y2":360,"v":1600},{"x":70,"x2":120,"y":352,"y2":360,"v":700},{"x":0,"x2":18,"y":360,"y2":368,"v":-3800},{"x":18,"x2":120,"y":360,"y2":368,"v":-2000},{"x":0,"x2":35,"y":368,"y2":376,"v":-3000},{"x":35,"x2":120,"y":368,"y2":376,"v":-1700},{"x":0,"x2":24,"y":376,"y2":384,"v":-4300},{"x":24,"x2":35,"y":376,"y2":384,"v":-3700},{"x":35,"x2":120,"y":376,"y2":384,"v":-2800},{"x":0,"x2":24,"y":384,"y2":392,"v":-4700},{"x":24,"x2":120,"y":384,"y2":392,"v":-3500},{"x":0,"x2":33,"y":392,"y2":400,"v":-5700},{"x":33,"x2":120,"y":392,"y2":400,"v":-4500},{"x":0,"x2":33,"y":400,"y2":408,"v":-4200},{"x":33,"x2":120,"y":400,"y2":408,"v":-3500},{"x":0,"x2":35,"y":408,"y2":416,"v":-3200},{"x":35,"x2":120,"y":408,"y2":416,"v":-2500},{"x":0,"x2":10,"y":416,"y2":424,"v":-2400},{"x":10,"x2":120,"y":416,"y2":424,"v":-1800},{"x":0,"x2":120,"y":424,"y2":432,"v":-900},{"x":0,"x2":43,"y":432,"y2":440,"v":1000},{"x":43,"x2":120,"y":432,"y2":440,"v":200},{"x":0,"x2":20,"y":440,"y2":448,"v":-1800},{"x":20,"x2":120,"y":440,"y2":448,"v":-700},{"x":0,"x2":78,"y":448,"y2":456,"v":1700},{"x":78,"x2":120,"y":448,"y2":456,"v":700},{"x":0,"x2":60,"y":456,"y2":464,"v":-1000},{"x":60,"x2":120,"y":456,"y2":464,"v":-200},{"x":0,"x2":10,"y":464,"y2":472,"v":2000},{"x":10,"x2":42,"y":464,"y2":472,"v":1300},{"x":42,"x2":50,"y":464,"y2":472,"v":2000},{"x":50,"x2":77,"y":464,"y2":472,"v":900},{"x":77,"x2":86,"y":464,"y2":472,"v":1500},{"x":86,"x2":120,"y":464,"y2":472,"v":800},{"x":0,"x2":60,"y":472,"y2":480,"v":-800},{"x":60,"x2":120,"y":472,"y2":480,"v":-600},{"x":0,"x2":42,"y":480,"y2":488,"v":1400},{"x":42,"x2":50,"y":480,"y2":488,"v":2300},{"x":50,"x2":78,"y":480,"y2":488,"v":1000},{"x":78,"x2":86,"y":480,"y2":488,"v":1900},{"x":86,"x2":120,"y":480,"y2":488,"v":800},{"x":0,"x2":120,"y":488,"y2":496,"v":-200},{"x":0,"x2":42,"y":496,"y2":500,"v":1000},{"x":42,"x2":53,"y":496,"y2":500,"v":1600},{"x":53,"x2":86,"y":496,"y2":500,"v":1000},{"x":86,"x2":120,"y":496,"y2":500,"v":700}],
"la":[{"x":227,"y":650,"t":"(a)"}],"lb":[{"x":136,"y":650,"t":"(b)"}]
},
"vconcat":[
{"spacing":17,"align":"none","vconcat":[
{"hconcat":[
{"width":39,"height":339,"data":{"values":[]},"mark":"rect","encoding":{}},
{"width":339,"height":339,"layer":[
{"data":{"name":"bgblue"},"mark":{"type":"rect","clip":true},"encoding":{"x":{"field":"x","type":"quantitative","scale":{"domain":[0,500],"nice":false},"axis":{"values":[0,250,500],"title":"Sample"}},"x2":{"field":"x2"},"y":{"field":"y","type":"quantitative","scale":{"domain":[500,0],"nice":false},"axis":{"values":[0,250,500],"title":"Sample"}},"y2":{"field":"y2"},"fill":{"field":"v","type":"quantitative","scale":{"domain":[-6000,6000]}}}},
{"data":{"name":"streak"},"mark":{"type":"line","clip":true,"strokeWidth":2.5},"encoding":{"x":{"field":"x","type":"quantitative"},"y":{"field":"y","type":"quantitative"},"detail":{"field":"s","type":"nominal"},"stroke":{"field":"v","type":"quantitative","scale":{"domain":[-6000,6000]}}}},
{"data":{"name":"area"},"mark":{"type":"area","clip":true,"orient":"vertical","interpolate":"monotone"},"encoding":{"x":{"field":"x","type":"quantitative"},"y":{"field":"y","type":"quantitative"},"y2":{"field":"y2"},"detail":{"field":"v","type":"nominal"},"fill":{"field":"v","type":"quantitative","scale":{"domain":[-6000,6000]}}}},
{"data":{"name":"la"},"mark":{"type":"text","fontSize":27,"font":"Liberation Serif","color":"#111"},"encoding":{"x":{"field":"x","type":"quantitative"},"y":{"field":"y","type":"quantitative"},"text":{"field":"t"}}}
]},
{"width":24,"height":339,"data":{"name":"bar"},"mark":"rect","encoding":{"y":{"field":"y","type":"quantitative","scale":{"domain":[-6000,6000],"nice":false},"axis":{"orient":"right","offset":2,"values":[-6000,0,6000],"title":null,"labelExpr":"toString(datum.value)"}},"y2":{"field":"y2"},"fill":{"field":"v","type":"quantitative","scale":{"domain":[-6000,6000]}},"stroke":{"field":"v","type":"quantitative","scale":{"domain":[-6000,6000]}}}},
{"width":78,"height":339,"data":{"values":[]},"mark":"rect","encoding":{}},
{"width":340,"height":339,"layer":[
{"data":{"name":"b"},"mark":{"type":"rect","clip":true},"encoding":{"x":{"field":"x","type":"quantitative","scale":{"domain":[0,250],"nice":false},"axis":{"values":[0,125,250],"title":"Iteration"}},"x2":{"field":"x2"},"y":{"field":"y","type":"quantitative","scale":{"domain":[500,0],"nice":false},"axis":{"values":[0,250,500],"title":"Sample"}},"y2":{"field":"y2"},"fill":{"field":"v","type":"quantitative","scale":{"domain":[-6000,6000]}},"stroke":{"field":"v","type":"quantitative","scale":{"domain":[-6000,6000]}}}},
{"data":{"name":"lb"},"mark":{"type":"text","fontSize":27,"font":"Liberation Serif","color":"#111"},"encoding":{"x":{"field":"x","type":"quantitative"},"y":{"field":"y","type":"quantitative"},"text":{"field":"t"}}}
]},
{"width":24,"height":339,"data":{"name":"bar"},"mark":"rect","encoding":{"y":{"field":"y","type":"quantitative","scale":{"domain":[-6000,6000],"nice":false},"axis":{"orient":"right","offset":2,"values":[-6000,0,6000],"title":null,"labelExpr":"toString(datum.value)"}},"y2":{"field":"y2"},"fill":{"field":"v","type":"quantitative","scale":{"domain":[-6000,6000]}},"stroke":{"field":"v","type":"quantitative","scale":{"domain":[-6000,6000]}}}}
],"spacing":24,"bounds":"flush"},
{"hconcat":[
{"width":39,"height":340,"data":{"values":[]},"mark":"rect","encoding":{}},
{"width":339,"height":340,"layer":[
{"data":{"name":"bgblue"},"mark":{"type":"rect","clip":true},"encoding":{"x":{"field":"x","type":"quantitative","scale":{"domain":[0,500],"nice":false},"axis":{"values":[0,250,500],"title":"Sample"}},"x2":{"field":"x2"},"y":{"field":"y","type":"quantitative","scale":{"domain":[500,0],"nice":false},"axis":{"values":[0,250,500],"title":"Sample"}},"y2":{"field":"y2"},"fill":{"field":"v","type":"quantitative","scale":{"domain":[-6000,6000]}}}},
{"data":{"name":"clines"},"mark":{"type":"line","clip":true,"strokeWidth":1.8},"encoding":{"x":{"field":"x","type":"quantitative"},"y":{"field":"y","type":"quantitative"},"detail":{"field":"d","type":"nominal"},"stroke":{"field":"v","type":"quantitative","scale":{"domain":[-6000,6000]}}}}
]},
{"width":24,"height":340,"data":{"name":"bar"},"mark":"rect","encoding":{"y":{"field":"y","type":"quantitative","scale":{"domain":[-6000,6000],"nice":false},"axis":{"orient":"right","offset":2,"values":[-6000,0,6000],"title":null,"labelExpr":"toString(datum.value)"}},"y2":{"field":"y2"},"fill":{"field":"v","type":"quantitative","scale":{"domain":[-6000,6000]}},"stroke":{"field":"v","type":"quantitative","scale":{"domain":[-6000,6000]}}}},
{"width":78,"height":340,"data":{"values":[]},"mark":"rect","encoding":{}},
{"width":340,"height":340,"data":{"name":"d"},"mark":{"type":"rect","clip":true},"encoding":{"x":{"field":"x","type":"quantitative","scale":{"domain":[0,250],"nice":false},"axis":{"values":[0,125,250],"title":"Iteration"}},"x2":{"field":"x2"},"y":{"field":"y","type":"quantitative","scale":{"domain":[500,0],"nice":false},"axis":{"values":[0,250,500],"title":"Sample"}},"y2":{"field":"y2"},"fill":{"field":"v","type":"quantitative","scale":{"domain":[-6000,6000]}}}},
{"width":24,"height":340,"data":{"name":"bar"},"mark":"rect","encoding":{"y":{"field":"y","type":"quantitative","scale":{"domain":[-6000,6000],"nice":false},"axis":{"orient":"right","offset":2,"values":[-6000,0,6000],"title":null,"labelExpr":"toString(datum.value)"}},"y2":{"field":"y2"},"fill":{"field":"v","type":"quantitative","scale":{"domain":[-6000,6000]}},"stroke":{"field":"v","type":"quantitative","scale":{"domain":[-6000,6000]}}}}
],"spacing":24,"bounds":"flush"}
]},
{"hconcat":[
{"width":37,"height":308,"data":{"values":[]},"mark":"rect","encoding":{}},
{"width":308,"height":308,"data":{"name":"d"},"mark":{"type":"rect","clip":true},"encoding":{"x":{"field":"x","type":"quantitative","scale":{"domain":[0,250],"nice":false},"axis":{"values":[0,125,250],"title":"Iteration","labelFontSize":16,"titleFontSize":15,"titlePadding":10}},"x2":{"field":"x2"},"y":{"field":"y","type":"quantitative","scale":{"domain":[500,0],"nice":false},"axis":{"values":[0,250,500],"title":"Sample","labelFontSize":16,"titleFontSize":15,"titlePadding":7}},"y2":{"field":"y2"},"fill":{"field":"v","type":"quantitative","scale":{"domain":[-6000,6000]}}}},
{"width":24,"height":308,"data":{"name":"bar"},"mark":"rect","encoding":{"y":{"field":"y","type":"quantitative","scale":{"domain":[-6000,6000],"nice":false},"axis":{"orient":"right","offset":2,"values":[-6000,0,6000],"title":null,"labelExpr":"toString(datum.value)","labelFontSize":16}},"y2":{"field":"y2"},"fill":{"field":"v","type":"quantitative","scale":{"domain":[-6000,6000]}},"stroke":{"field":"v","type":"quantitative","scale":{"domain":[-6000,6000]}}}},
{"width":68,"height":308,"data":{"values":[]},"mark":"rect","encoding":{}},
{"width":308,"height":308,"data":{"name":"f"},"mark":{"type":"rect","clip":true},"encoding":{"x":{"field":"x","type":"quantitative","scale":{"domain":[0,120],"nice":false},"axis":{"values":[0,60,120],"title":"Iteration","labelFontSize":16,"titleFontSize":15,"titlePadding":10}},"x2":{"field":"x2"},"y":{"field":"y","type":"quantitative","scale":{"domain":[500,0],"nice":false},"axis":{"values":[0,250,500],"title":"Sample","labelFontSize":16,"titleFontSize":15,"titlePadding":7}},"y2":{"field":"y2"},"fill":{"field":"v","type":"quantitative","scale":{"domain":[-6000,6000]}},"stroke":{"field":"v","type":"quantitative","scale":{"domain":[-6000,6000]}}}},
{"width":24,"height":308,"data":{"name":"bar"},"mark":"rect","encoding":{"y":{"field":"y","type":"quantitative","scale":{"domain":[-6000,6000],"nice":false},"axis":{"orient":"right","offset":2,"values":[-6000,0,6000],"title":null,"labelExpr":"toString(datum.value)","labelFontSize":16}},"y2":{"field":"y2"},"fill":{"field":"v","type":"quantitative","scale":{"domain":[-6000,6000]}},"stroke":{"field":"v","type":"quantitative","scale":{"domain":[-6000,6000]}}}}
],"spacing":22,"bounds":"flush"}
]}
